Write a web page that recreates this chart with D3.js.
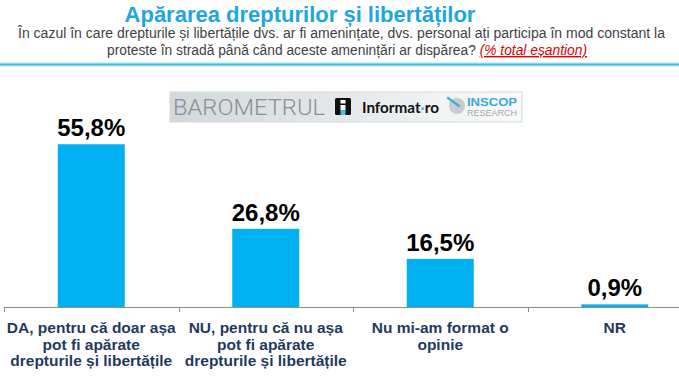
<!DOCTYPE html>
<html>
<head>
<meta charset="utf-8">
<script src="https://cdn.jsdelivr.net/npm/d3@7"></script>
<style>
  body { margin: 0; background: #fff; }
  svg { display: block; font-family: "Liberation Sans", Arial, sans-serif; }
</style>
</head>
<body>
<svg id="chart" width="679" height="392"></svg>
<script>
// data
var categories = ["DA", "NU", "NS", "NR"]
var values = [55.8, 26.8, 16.5, 0.9]
var valueLabels = ["55,8%", "26,8%", "16,5%", "0,9%"]
var categoryLabels = [
    ["DA, pentru că doar așa", "pot fi apărate", "drepturile și libertățile"],
    ["NU, pentru că nu așa", "pot fi apărate", "drepturile și libertățile"],
    ["Nu mi-am format o", "opinie"],
    ["NR"]
]
var titleText = "Apărarea drepturilor și libertăților"
var subtitle1 = "În cazul în care drepturile și libertățile dvs. ar fi amenințate, dvs. personal ați participa în mod constant la"
var subtitle2 = "proteste în stradă până când aceste amenințări ar dispărea?"
var subtitleNote = "(% total eșantion)"

var data = categories.map(function(c, i){
    return {cat: c, value: values[i], label: valueLabels[i], lines: categoryLabels[i]}
})

var svg = d3.select("#chart")

var barColor = "#00b0f0"
var baseY = 307

var x = d3.scaleBand()
    .domain(categories)
    .range([4, 702])
    .paddingInner(0.616)
    .paddingOuter(0.308)

var y = d3.scaleLinear()
    .domain([0, 60])
    .range([baseY, 132])

// title block
svg.append("text")
    .attr("x", 300)
    .attr("y", 22)
    .attr("text-anchor", "middle")
    .style("font-size", "22px")
    .style("font-weight", "bold")
    .style("fill", "#1ea5e3")
    .text(titleText)

svg.append("text")
    .attr("x", 341.5)
    .attr("y", 38)
    .attr("text-anchor", "middle")
    .attr("textLength", 647)
    .attr("lengthAdjust", "spacingAndGlyphs")
    .style("font-family", "'Liberation Sans Narrow', 'Liberation Sans', Arial, sans-serif")
    .style("font-size", "14px")
    .style("fill", "#3f3f3f")
    .text(subtitle1)

var sub2 = svg.append("text")
    .attr("x", 347)
    .attr("y", 55)
    .attr("text-anchor", "middle")
    .attr("textLength", 480)
    .attr("lengthAdjust", "spacingAndGlyphs")
    .style("font-family", "'Liberation Sans Narrow', 'Liberation Sans', Arial, sans-serif")
    .style("font-size", "14px")
    .style("fill", "#3f3f3f")
sub2.append("tspan").text(subtitle2 + "  ")
sub2.append("tspan")
    .style("fill", "#e00000")
    .style("font-style", "italic")
    .style("text-decoration", "underline")
    .text(subtitleNote)

// blue rule under the header
svg.append("rect")
    .attr("x", 0).attr("y", 62.5)
    .attr("width", 679).attr("height", 4)
    .attr("fill", "#b9e6f6")
svg.append("rect")
    .attr("x", 0).attr("y", 63.5)
    .attr("width", 679).attr("height", 2)
    .attr("fill", "#45bfe8")

// logo banner
var defs = svg.append("defs")
var grad = defs.append("linearGradient").attr("id", "logoGrad")
grad.append("stop").attr("offset", "0%").attr("stop-color", "#d2d8db")
grad.append("stop").attr("offset", "45%").attr("stop-color", "#e3e7e9")
grad.append("stop").attr("offset", "100%").attr("stop-color", "#fafbfb")

var logo = svg.append("g")
logo.append("rect")
    .attr("x", 170).attr("y", 92)
    .attr("width", 352).attr("height", 30)
    .attr("fill", "url(#logoGrad)")
    .attr("stroke", "#d3dadd")
logo.append("text")
    .attr("x", 173).attr("y", 114.5)
    .attr("textLength", 152)
    .attr("lengthAdjust", "spacingAndGlyphs")
    .style("font-family", "Roboto, 'Liberation Sans', sans-serif")
    .style("font-weight", 300)
    .style("font-size", "22px")
    .style("fill", "#8a8f93")
    .text("BAROMETRUL")
logo.append("rect")
    .attr("x", 335).attr("y", 98)
    .attr("width", 16).attr("height", 17)
    .attr("rx", 1.5)
    .attr("fill", "#111")
logo.append("rect")
    .attr("x", 340.5).attr("y", 100)
    .attr("width", 5).attr("height", 3.5)
    .attr("fill", "#fff")
logo.append("rect")
    .attr("x", 340.5).attr("y", 105)
    .attr("width", 5).attr("height", 5)
    .attr("fill", "#fff")
logo.append("rect")
    .attr("x", 340.5).attr("y", 110)
    .attr("width", 5).attr("height", 5)
    .attr("fill", "#45bfe8")
var inf = logo.append("text")
    .attr("x", 362).attr("y", 112.5)
    .attr("textLength", 77)
    .attr("lengthAdjust", "spacingAndGlyphs")
    .style("font-family", "Lato, 'Liberation Sans', sans-serif")
    .style("font-weight", "bold")
    .style("font-size", "15px")
    .style("fill", "#111")
inf.append("tspan").text("Informat")
inf.append("tspan").style("fill", "#45bfe8").text("·")
inf.append("tspan").text("ro")
logo.append("circle")
    .attr("cx", 457).attr("cy", 106)
    .attr("r", 8)
    .attr("fill", "#c9cdd0")
logo.append("line")
    .attr("x1", 448).attr("y1", 98)
    .attr("x2", 459).attr("y2", 106)
    .attr("stroke", "#3fb4e3")
    .attr("stroke-width", 2.5)
    .attr("stroke-linecap", "round")
logo.append("text")
    .attr("x", 467).attr("y", 106)
    .attr("textLength", 50)
    .attr("lengthAdjust", "spacingAndGlyphs")
    .style("font-size", "11px")
    .style("font-weight", "bold")
    .style("fill", "#3aa9dc")
    .text("INSCOP")
logo.append("text")
    .attr("x", 467).attr("y", 116)
    .attr("textLength", 50)
    .attr("lengthAdjust", "spacingAndGlyphs")
    .style("font-size", "8.5px")
    .style("fill", "#a3a8ab")
    .text("RESEARCH")

// bars
svg.append("g")
    .selectAll("rect")
    .data(data)
    .enter()
    .append("rect")
        .attr("x", function(d){ return x(d.cat) })
        .attr("y", function(d){ return y(d.value) })
        .attr("width", x.bandwidth())
        .attr("height", function(d){ return baseY - y(d.value) })
        .attr("fill", barColor)

// value labels
svg.append("g")
    .selectAll("text")
    .data(data)
    .enter()
    .append("text")
        .attr("x", function(d){ return x(d.cat) + x.bandwidth()/2 })
        .attr("y", function(d){ return y(d.value) - 8 })
        .attr("text-anchor", "middle")
        .style("font-size", "24px")
        .style("font-weight", "bold")
        .style("fill", "#000")
        .text(function(d){ return d.label })

// axis line with tick marks at band edges
var axis = svg.append("g")
axis.append("line")
    .attr("x1", 4).attr("x2", 679)
    .attr("y1", baseY + 0.5).attr("y2", baseY + 0.5)
    .attr("stroke", "#8c8c8c")
var edges = d3.range(categories.length + 1).map(function(i){ return x.range()[0] + i * x.step() })
axis.selectAll("line.tick")
    .data(edges)
    .enter()
    .append("line")
        .attr("class", "tick")
        .attr("x1", function(d){ return Math.round(d) + 0.5 })
        .attr("x2", function(d){ return Math.round(d) + 0.5 })
        .attr("y1", baseY)
        .attr("y2", baseY + 5)
        .attr("stroke", "#8c8c8c")

// category labels
var cats = svg.append("g")
    .selectAll("text")
    .data(data)
    .enter()
    .append("text")
        .attr("text-anchor", "middle")
        .style("font-size", "15.5px")
        .style("font-weight", "bold")
        .style("fill", "#1f3a60")
cats.selectAll("tspan")
    .data(function(d){ return d.lines.map(function(l){ return {line: l, cx: x(d.cat) + x.bandwidth()/2} }) })
    .enter()
    .append("tspan")
        .attr("x", function(d){ return d.cx })
        .attr("y", function(d, i){ return 333 + i * 16.5 })
        .text(function(d){ return d.line })
</script>
</body>
</html>
